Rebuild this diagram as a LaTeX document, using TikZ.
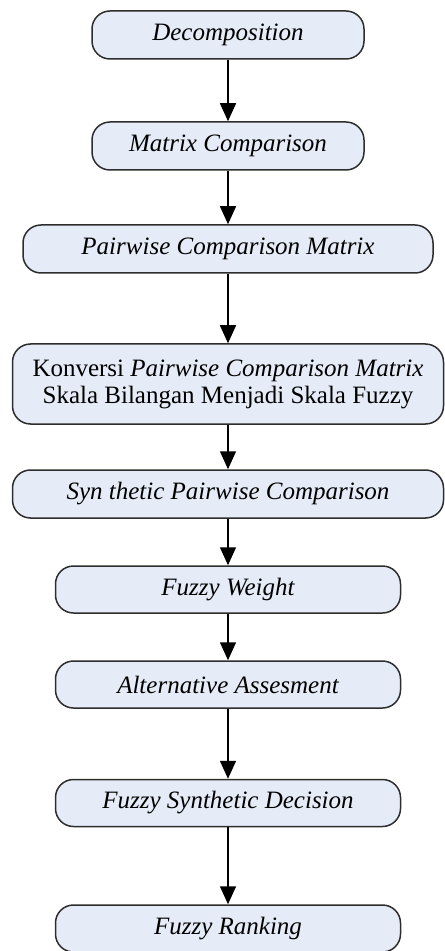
\documentclass[tikz,border=0pt]{standalone}
\usepackage{fontspec}
\setmainfont{Liberation Serif}
\usetikzlibrary{arrows.meta}
\definecolor{boxfill}{RGB}{230,236,247}
\definecolor{boxline}{RGB}{45,45,45}
\begin{document}
\begin{tikzpicture}[x=0.5pt,y=-0.5pt]
\tikzstyle{box_style} = [draw=boxline, fill=boxfill, line width=0.75pt, rounded corners=9pt, inner sep=0pt, align=center, font=\fontsize{12.5}{13.5}\selectfont]
\tikzstyle{narrow_box} = [box_style, minimum width=136pt, minimum height=24pt]
\tikzstyle{wide_box} = [box_style, minimum width=205pt, minimum height=24pt]
\tikzstyle{full_box} = [box_style, minimum width=215.5pt, minimum height=24pt]
\tikzstyle{mid_box} = [box_style, minimum width=172.5pt, minimum height=23.5pt]
\tikzstyle{edge_style} = [black, line width=0.75pt, -{Triangle[length=9pt,width=8pt]}]
    \useasboundingbox (0,0) rectangle (444,951);

    \node[narrow_box] (b1) at (228,35) {\itshape Decomposition};
    \node[narrow_box] (b2) at (228,146) {\itshape Matrix Comparison};
    \node[wide_box] (b3) at (228,249) {\itshape Pairwise Comparison Matrix};
    \node[full_box, minimum height=40pt] (b4) at (228,384)
        {Konversi \textit{Pairwise Comparison Matrix}\\Skala Bilangan Menjadi Skala Fuzzy};
    \node[full_box] (b5) at (228,494) {\itshape Syn thetic Pairwise Comparison};
    \node[mid_box] (b6) at (228,589.5) {\itshape Fuzzy Weight};
    \node[mid_box] (b7) at (228,684.5) {\itshape Alternative Assesment};
    \node[mid_box] (b8) at (228,803) {\itshape Fuzzy Synthetic Decision};
    \node[mid_box] (b9) at (228,928.5) {\itshape Fuzzy Ranking};

    \draw[edge_style] (b1) -- (b2);
    \draw[edge_style] (b2) -- (b3);
    \draw[edge_style] (b3) -- (b4);
    \draw[edge_style] (b4) -- (b5);
    \draw[edge_style] (b5) -- (b6);
    \draw[edge_style] (b6) -- (b7);
    \draw[edge_style] (b7) -- (b8);
    \draw[edge_style] (b8) -- (b9);
\end{tikzpicture}
\end{document}
